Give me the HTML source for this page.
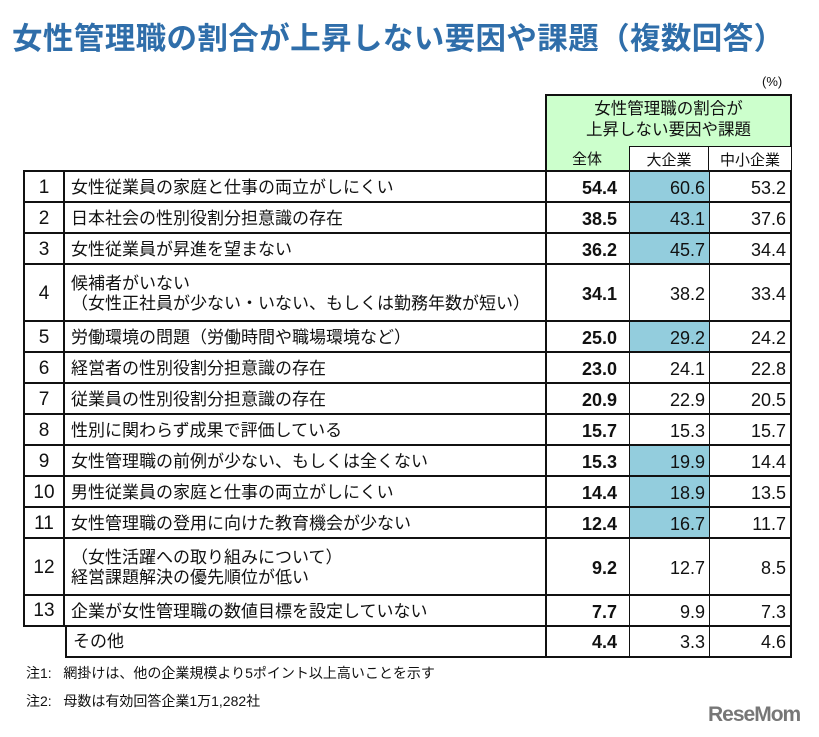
<!DOCTYPE html>
<html><head><meta charset="utf-8"><style>
body{margin:0;width:819px;height:737px;background:#fff;position:relative;overflow:hidden;font-family:"Liberation Sans","Noto Sans CJK JP",sans-serif;color:#111}
.a{position:absolute;box-sizing:border-box}
.c{position:absolute;box-sizing:border-box;display:flex;align-items:center;font-size:17px;line-height:20px}
</style></head><body>
<div class="a" style="left:12px;top:14px;font-size:30.5px;font-weight:bold;color:#2f6eaa;white-space:nowrap;letter-spacing:0.4px">女性管理職の割合が上昇しない要因や課題（複数回答）</div>
<div class="a" style="left:762px;top:74px;font-size:13px">(%)</div>
<div class="a" style="left:545px;top:94px;width:247px;height:77px;background:#ccffcc;border:2px solid #111;border-bottom:none"></div>
<div class="a" style="left:545px;top:99px;width:247px;text-align:center;font-size:16.5px;line-height:21px">女性管理職の割合が<br>上昇しない要因や課題</div>
<div class="a" style="left:545px;top:148px;width:84px;text-align:center;font-size:15px">全体</div>
<div class="a" style="left:629px;top:146px;width:80px;height:25px;background:#fff;border:1.5px solid #111;border-bottom:none;text-align:center;font-size:15px;padding-top:2px">大企業</div>
<div class="a" style="left:709px;top:146px;width:83px;height:25px;background:#fff;border:1.5px solid #111;border-left:none;border-bottom:none;text-align:center;font-size:15px;padding-top:2px">中小企業</div>
<div id="tbl"></div>
<div class="a" style="left:26px;top:663px;font-size:14px">注1:&nbsp;&nbsp;&nbsp;網掛けは、他の企業規模より5ポイント以上高いことを示す</div>
<div class="a" style="left:26px;top:691px;font-size:14px">注2:&nbsp;&nbsp;&nbsp;母数は有効回答企業1万1,282社</div>
<div class="a" style="left:708px;top:703px;font-size:21px;font-weight:bold;color:#777;letter-spacing:-1px">ReseMom</div>
<script>
const ranks=["1","2","3","4","5","6","7","8","9","10","11","12","13",""];
const labels=["女性従業員の家庭と仕事の両立がしにくい","日本社会の性別役割分担意識の存在","女性従業員が昇進を望まない","候補者がいない<br>（女性正社員が少ない・いない、もしくは勤務年数が短い）","労働環境の問題（労働時間や職場環境など）","経営者の性別役割分担意識の存在","従業員の性別役割分担意識の存在","性別に関わらず成果で評価している","女性管理職の前例が少ない、もしくは全くない","男性従業員の家庭と仕事の両立がしにくい","女性管理職の登用に向けた教育機会が少ない","（女性活躍への取り組みについて）<br>経営課題解決の優先順位が低い","企業が女性管理職の数値目標を設定していない","その他"];
const allV=[54.4,38.5,36.2,34.1,25.0,23.0,20.9,15.7,15.3,14.4,12.4,9.2,7.7,4.4];
const largeV=[60.6,43.1,45.7,38.2,29.2,24.1,22.9,15.3,19.9,18.9,16.7,12.7,9.9,3.3];
const smeV=[53.2,37.6,34.4,33.4,24.2,22.8,20.5,15.7,14.4,13.5,11.7,8.5,7.3,4.6];
const highlight=[1,1,1,0,1,0,0,0,1,1,1,0,0,0];
const tall=[0,0,0,1,0,0,0,0,0,0,0,1,0,0];
const t=document.getElementById('tbl');
let y=170;
function cell(x,yy,w,h,html,name,st){const d=document.createElement('div');d.className='c';

d.style.cssText+=`left:${x}px;top:${yy}px;width:${w}px;height:${h}px;`+st;d.innerHTML=html;t.appendChild(d);}
for(let i=0;i<labels.length;i++){
 const h=tall[i]?57:31;const last=i===labels.length-1;
 const bt='border-top:2px solid #111;';
 if(!last)cell(23,y,42,h+2,ranks[i],'rank-'+(i+1),bt+'border-left:2px solid #111;border-right:2px solid #111;'+(i===12?'border-bottom:2px solid #111;':'')+'justify-content:center;font-size:19px;');
 else cell(23,y,42,h,'','empty-rank','');
 cell(65,y,480,h+2,labels[i],'row-label-'+(i+1),bt+(last?'border-left:2px solid #111;border-bottom:2px solid #111;':'')+'padding-left:6px;');
 cell(545,y,84,h+2,allV[i].toFixed(1),'value-all-'+(i+1),bt+'border-left:2px solid #111;justify-content:flex-end;padding-right:12px;font-weight:bold;font-size:18px;'+(last?'border-bottom:2px solid #111;':''));
 cell(629,y,80,h+2,largeV[i].toFixed(1),'value-large-'+(i+1),bt+'border-left:1.5px solid #111;justify-content:flex-end;padding-right:4px;font-size:18px;'+(highlight[i]?'background:#93cddd;':'')+(last?'border-bottom:2px solid #111;':''));
 cell(709,y,83,h+2,smeV[i].toFixed(1),'value-sme-'+(i+1),bt+'border-left:1.5px solid #111;border-right:2px solid #111;justify-content:flex-end;padding-right:4px;font-size:18px;'+(last?'border-bottom:2px solid #111;':''));
 y+=h;
}
</script>
</body></html>
